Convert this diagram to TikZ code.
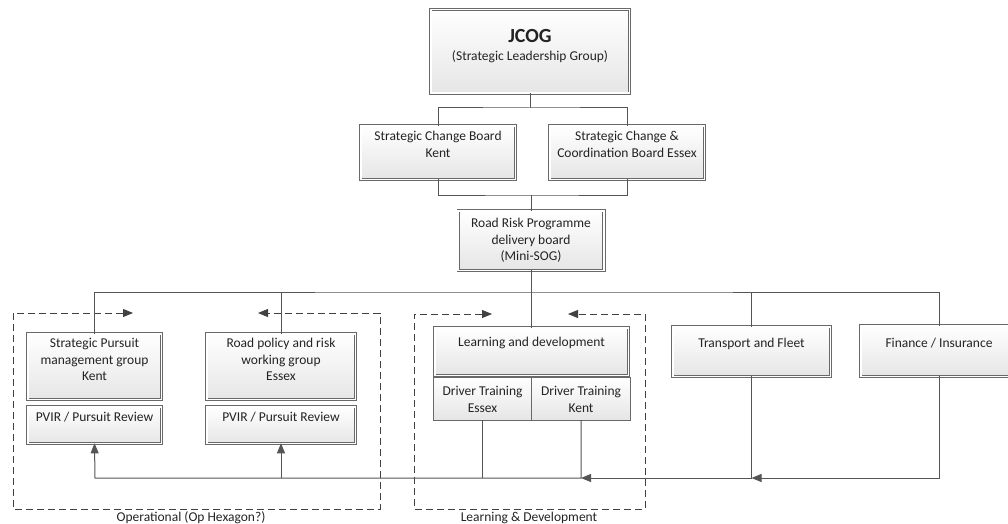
\documentclass[tikz,border=0pt]{standalone}
\usepackage{fontspec}
\setmainfont{Carlito}
\usetikzlibrary{arrows.meta,shadows}
\definecolor{lc}{RGB}{85,85,85}
\definecolor{bc}{RGB}{105,105,105}
\definecolor{dc}{RGB}{65,65,65}
\definecolor{tc}{RGB}{35,35,35}
\begin{document}
\begin{tikzpicture}[x=1pt,y=-1pt,
  dbox/.style={draw=bc, line width=0.9pt, double=white, double distance=1.6pt,
    top color=white, bottom color=black!10,
    drop shadow={shadow xshift=1.5pt, shadow yshift=-1.5pt, opacity=0.2},
    inner sep=0pt, outer sep=0pt},
  sbox/.style={draw=bc, line width=0.9pt, top color=white, bottom color=black!10,
    inner sep=0pt, outer sep=0pt},
  txt/.style={anchor=north, inner sep=0pt, align=center, text=tc,
    font=\fontsize{13.5}{16.5}\selectfont},
  conn/.style={draw=lc, line width=1pt},
  arr/.style={conn, -{Triangle[length=10pt,width=8pt]}},
  dashbox/.style={draw=dc, line width=0.9pt, dash pattern=on 7pt off 4pt,
    {Triangle[length=10pt,width=8pt]}-{Triangle[length=10pt,width=8pt]}},
  grp/.style={anchor=base, inner sep=0pt, text=tc, font=\fontsize{13.5}{16.5}\selectfont}
]
\useasboundingbox (0,0) rectangle (1008,524);

% dashed group containers
\draw[dashbox] (133,313) -- (13,313) -- (13,509) -- (380,509) -- (380,313) -- (258,313);
\draw[dashbox] (492,314) -- (414,314) -- (414,509) -- (645,509) -- (645,314) -- (568,314);
\node[grp] (opl) at (191,521.2) {Operational (Op Hexagon?)};
\node[grp] (ldl) at (529,521.2) {Learning \& Development};

% boxes
\node[dbox, minimum width=198.6pt, minimum height=83.6pt] (jcog) at (530,51.5) {};
\node[dbox, minimum width=154.6pt, minimum height=53.6pt] (scbk) at (438,152.5) {};
\node[dbox, minimum width=154.6pt, minimum height=53.6pt] (scbe) at (627,152.5) {};
\node[dbox, minimum width=145.6pt, minimum height=59.6pt] (rr) at (531,240.5) {};
\node[dbox, minimum width=133.6pt, minimum height=65.6pt] (spm) at (94.5,366.5) {};
\node[dbox, minimum width=133.6pt, minimum height=36.6pt] (pv1) at (94.5,425) {};
\node[dbox, minimum width=148.6pt, minimum height=65.6pt] (rpw) at (281,366.5) {};
\node[dbox, minimum width=148.6pt, minimum height=36.6pt] (pv2) at (281,425) {};
\node[dbox, minimum width=193.6pt, minimum height=47.6pt] (ld) at (531.5,351.5) {};
\node[sbox, minimum width=98.5pt, minimum height=43pt] (dte) at (482.5,398.5) {};
\node[sbox, minimum width=98.5pt, minimum height=43pt] (dtk) at (581,398.5) {};
\node[dbox, minimum width=157.6pt, minimum height=49.6pt] (tf) at (751.5,351.5) {};
\node[dbox, minimum width=156.6pt, minimum height=50.6pt] (fin) at (939,351) {};

% texts
\node[txt, font=\fontsize{20}{24}\selectfont\bfseries] (jcogt) at (530,29) {JCOG};
\node[txt] (jcogs) at (530,49) {\strut(Strategic Leadership Group)};
\node[txt] (scbkt) at (438,129) {\strut Strategic Change Board\\Kent};
\node[txt] (scbet) at (627,129) {\strut Strategic Change \&\\Coordination Board Essex};
\node[txt] (rrt) at (531,216) {\strut Road Risk Programme\\delivery board\\(Mini-SOG)};
\node[txt] (spmt) at (94.5,336) {\strut Strategic Pursuit\\management group\\Kent};
\node[txt] (pv1t) at (94.5,410) {\strut PVIR / Pursuit Review};
\node[txt] (rpwt) at (281,336) {\strut Road policy and risk\\working group\\Essex};
\node[txt] (pv2t) at (281,410) {\strut PVIR / Pursuit Review};
\node[txt] (ldt) at (531.5,335) {\strut Learning and development};
\node[txt] (dtet) at (482.5,384) {\strut Driver Training\\Essex};
\node[txt] (dtkt) at (581,384) {\strut Driver Training\\Kent};
\node[txt] (tft) at (751.5,336) {\strut Transport and Fleet};
\node[txt] (fint) at (939,336) {\strut Finance / Insurance};

% connectors top
\coordinate (b1) at (530,108);
\coordinate (b2) at (531,195);
\coordinate (b3) at (531,292);
\coordinate (b4) at (95,478);
\draw[conn] (jcog.south) -- (b1);
\draw[conn] (scbk.north) |- (b1) -| (scbe.north);
\draw[conn] (scbk.south) |- (b2) -| (scbe.south);
\draw[conn] (b2) -- (rr.north);
\draw[conn] (rr.south) -- (b3);
\draw[conn] (spm.north) |- (b3) -| (fin.north);
\draw[conn] (rpw.north) -- (rpw.north |- b3);
\draw[conn] (ld.north) -- (ld.north |- b3);
\draw[conn] (tf.north) -- (tf.north |- b3);

% connectors bottom
\draw[arr] (fin.south) |- (tf.south |- b4);
\draw[arr] (tf.south) |- (dtk.south |- b4);
\draw[arr] (dtk.south) |- (b4) -- (pv1.south);
\draw[conn] (dte.south) -- (dte.south |- b4);
\draw[arr] (rpw.south |- b4) -- (pv2.south);
\end{tikzpicture}
\end{document}
